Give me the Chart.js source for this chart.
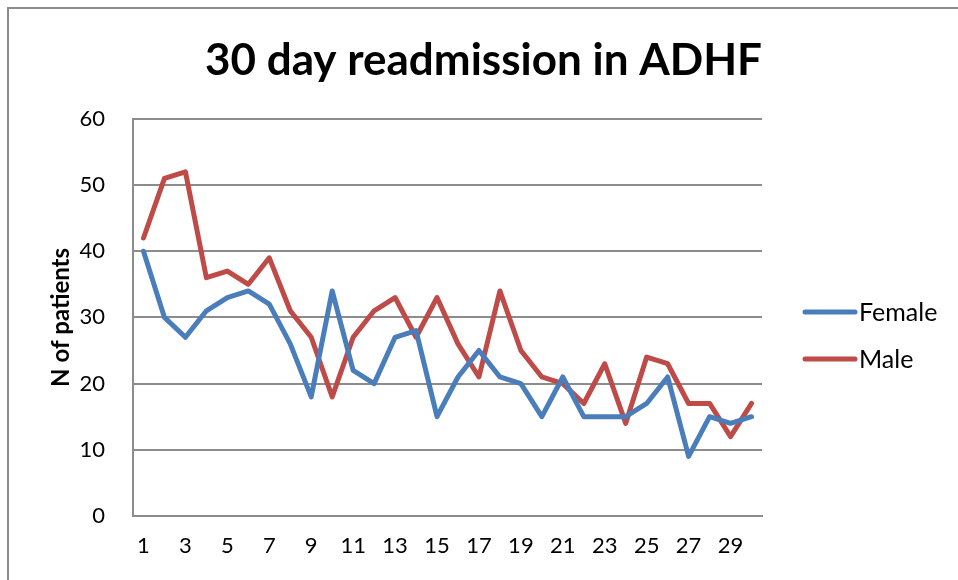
<!DOCTYPE html>
<html>
<head>
<meta charset="utf-8">
<script src="https://cdn.jsdelivr.net/npm/chart.js@4"></script>
<style>
  html, body { margin: 0; padding: 0; background: #fff; }
  #wrap { position: relative; width: 958px; height: 580px; overflow: hidden; }
  #frame { position: absolute; left: 7px; top: 7px; width: 960px; height: 600px;
           border-left: 2px solid #8c8c8c; border-top: 2px solid #8c8c8c; pointer-events: none; }
  canvas { position: absolute; left: 0; top: 0; }
</style>
</head>
<body>
<div id="wrap">
  <canvas id="c" width="958" height="580"></canvas>
  <div id="frame"></div>
</div>
<script>
const days = ['1','2','3','4','5','6','7','8','9','10','11','12','13','14','15',
              '16','17','18','19','20','21','22','23','24','25','26','27','28','29','30'];
const female = [40,30,27,31,33,34,32,26,18,34,22,20,27,28,15,21,25,21,20,15,21,15,15,15,17,21,9,15,14,15];
const male   = [42,51,52,36,37,35,39,31,27,18,27,31,33,27,33,26,21,34,25,21,20,17,23,14,24,23,17,17,12,17];
const yTicks = [0,10,20,30,40,50,60];

const FONT = 'Lato, "Open Sans", sans-serif';

const legendPlugin = {
  id: 'sideLegend',
  afterDraw(chart) {
    const ctx = chart.ctx;
    ctx.save();
    chart.data.datasets.forEach((ds, i) => {
      const y = 312 + i * 47;
      ctx.strokeStyle = ds.borderColor;
      ctx.lineWidth = 5;
      ctx.lineCap = 'round';
      ctx.beginPath();
      ctx.moveTo(805, y);
      ctx.lineTo(855, y);
      ctx.stroke();
      ctx.fillStyle = '#000';
      ctx.font = '25px ' + FONT;
      ctx.textBaseline = 'middle';
      ctx.textAlign = 'left';
      ctx.fillText(ds.label, 859, y + 1);
    });
    ctx.restore();
  }
};

new Chart(document.getElementById('c'), {
  type: 'line',
  data: {
    labels: days,
    datasets: [
      { label: 'Female', data: female, borderColor: '#4A7EBB', backgroundColor: '#4A7EBB',
        borderWidth: 5, pointRadius: 0, tension: 0, borderJoinStyle: 'round', borderCapStyle: 'round' },
      { label: 'Male', data: male, borderColor: '#BE4B48', backgroundColor: '#BE4B48',
        borderWidth: 5, pointRadius: 0, tension: 0, borderJoinStyle: 'round', borderCapStyle: 'round' }
    ]
  },
  options: {
    responsive: false,
    animation: false,
    layout: { padding: { left: 0, right: 196, top: 0, bottom: 0 } },
    plugins: {
      legend: { display: false },
      tooltip: { enabled: false },
      title: {
        display: true,
        align: 'end',
        text: '30 day readmission in ADHF',
        color: '#000',
        font: { family: FONT, size: 44, weight: 'bold' },
        padding: { top: 34, bottom: 32 }
      }
    },
    scales: {
      x: {
        offset: true,
        grid: { display: false, drawTicks: false },
        border: { display: true, color: '#8c8c8c', width: 2 },
        ticks: {
          autoSkip: false, maxRotation: 0, color: '#000', padding: 17,
          font: { family: FONT, size: 22 },
          callback: function (v, i) { return i % 2 === 0 ? this.getLabelForValue(v) : ''; }
        },
        afterFit(scale) { scale.height = 64; }
      },
      y: {
        min: 0, max: 60,
        afterBuildTicks(scale) { scale.ticks = yTicks.map(v => ({ value: v })); },
        grid: { color: '#8c8c8c', lineWidth: 2, drawTicks: false },
        border: { display: true, color: '#8c8c8c', width: 2 },
        ticks: { color: '#000', padding: 28, font: { family: FONT, size: 22 } },
        title: {
          display: true, text: 'N of patients', color: '#000',
          font: { family: FONT, size: 24, weight: 'bold' },
          padding: { top: 47, bottom: 0 }
        },
        afterFit(scale) { scale.width = 133; }
      }
    }
  },
  plugins: [legendPlugin]
});
</script>
</body>
</html>
